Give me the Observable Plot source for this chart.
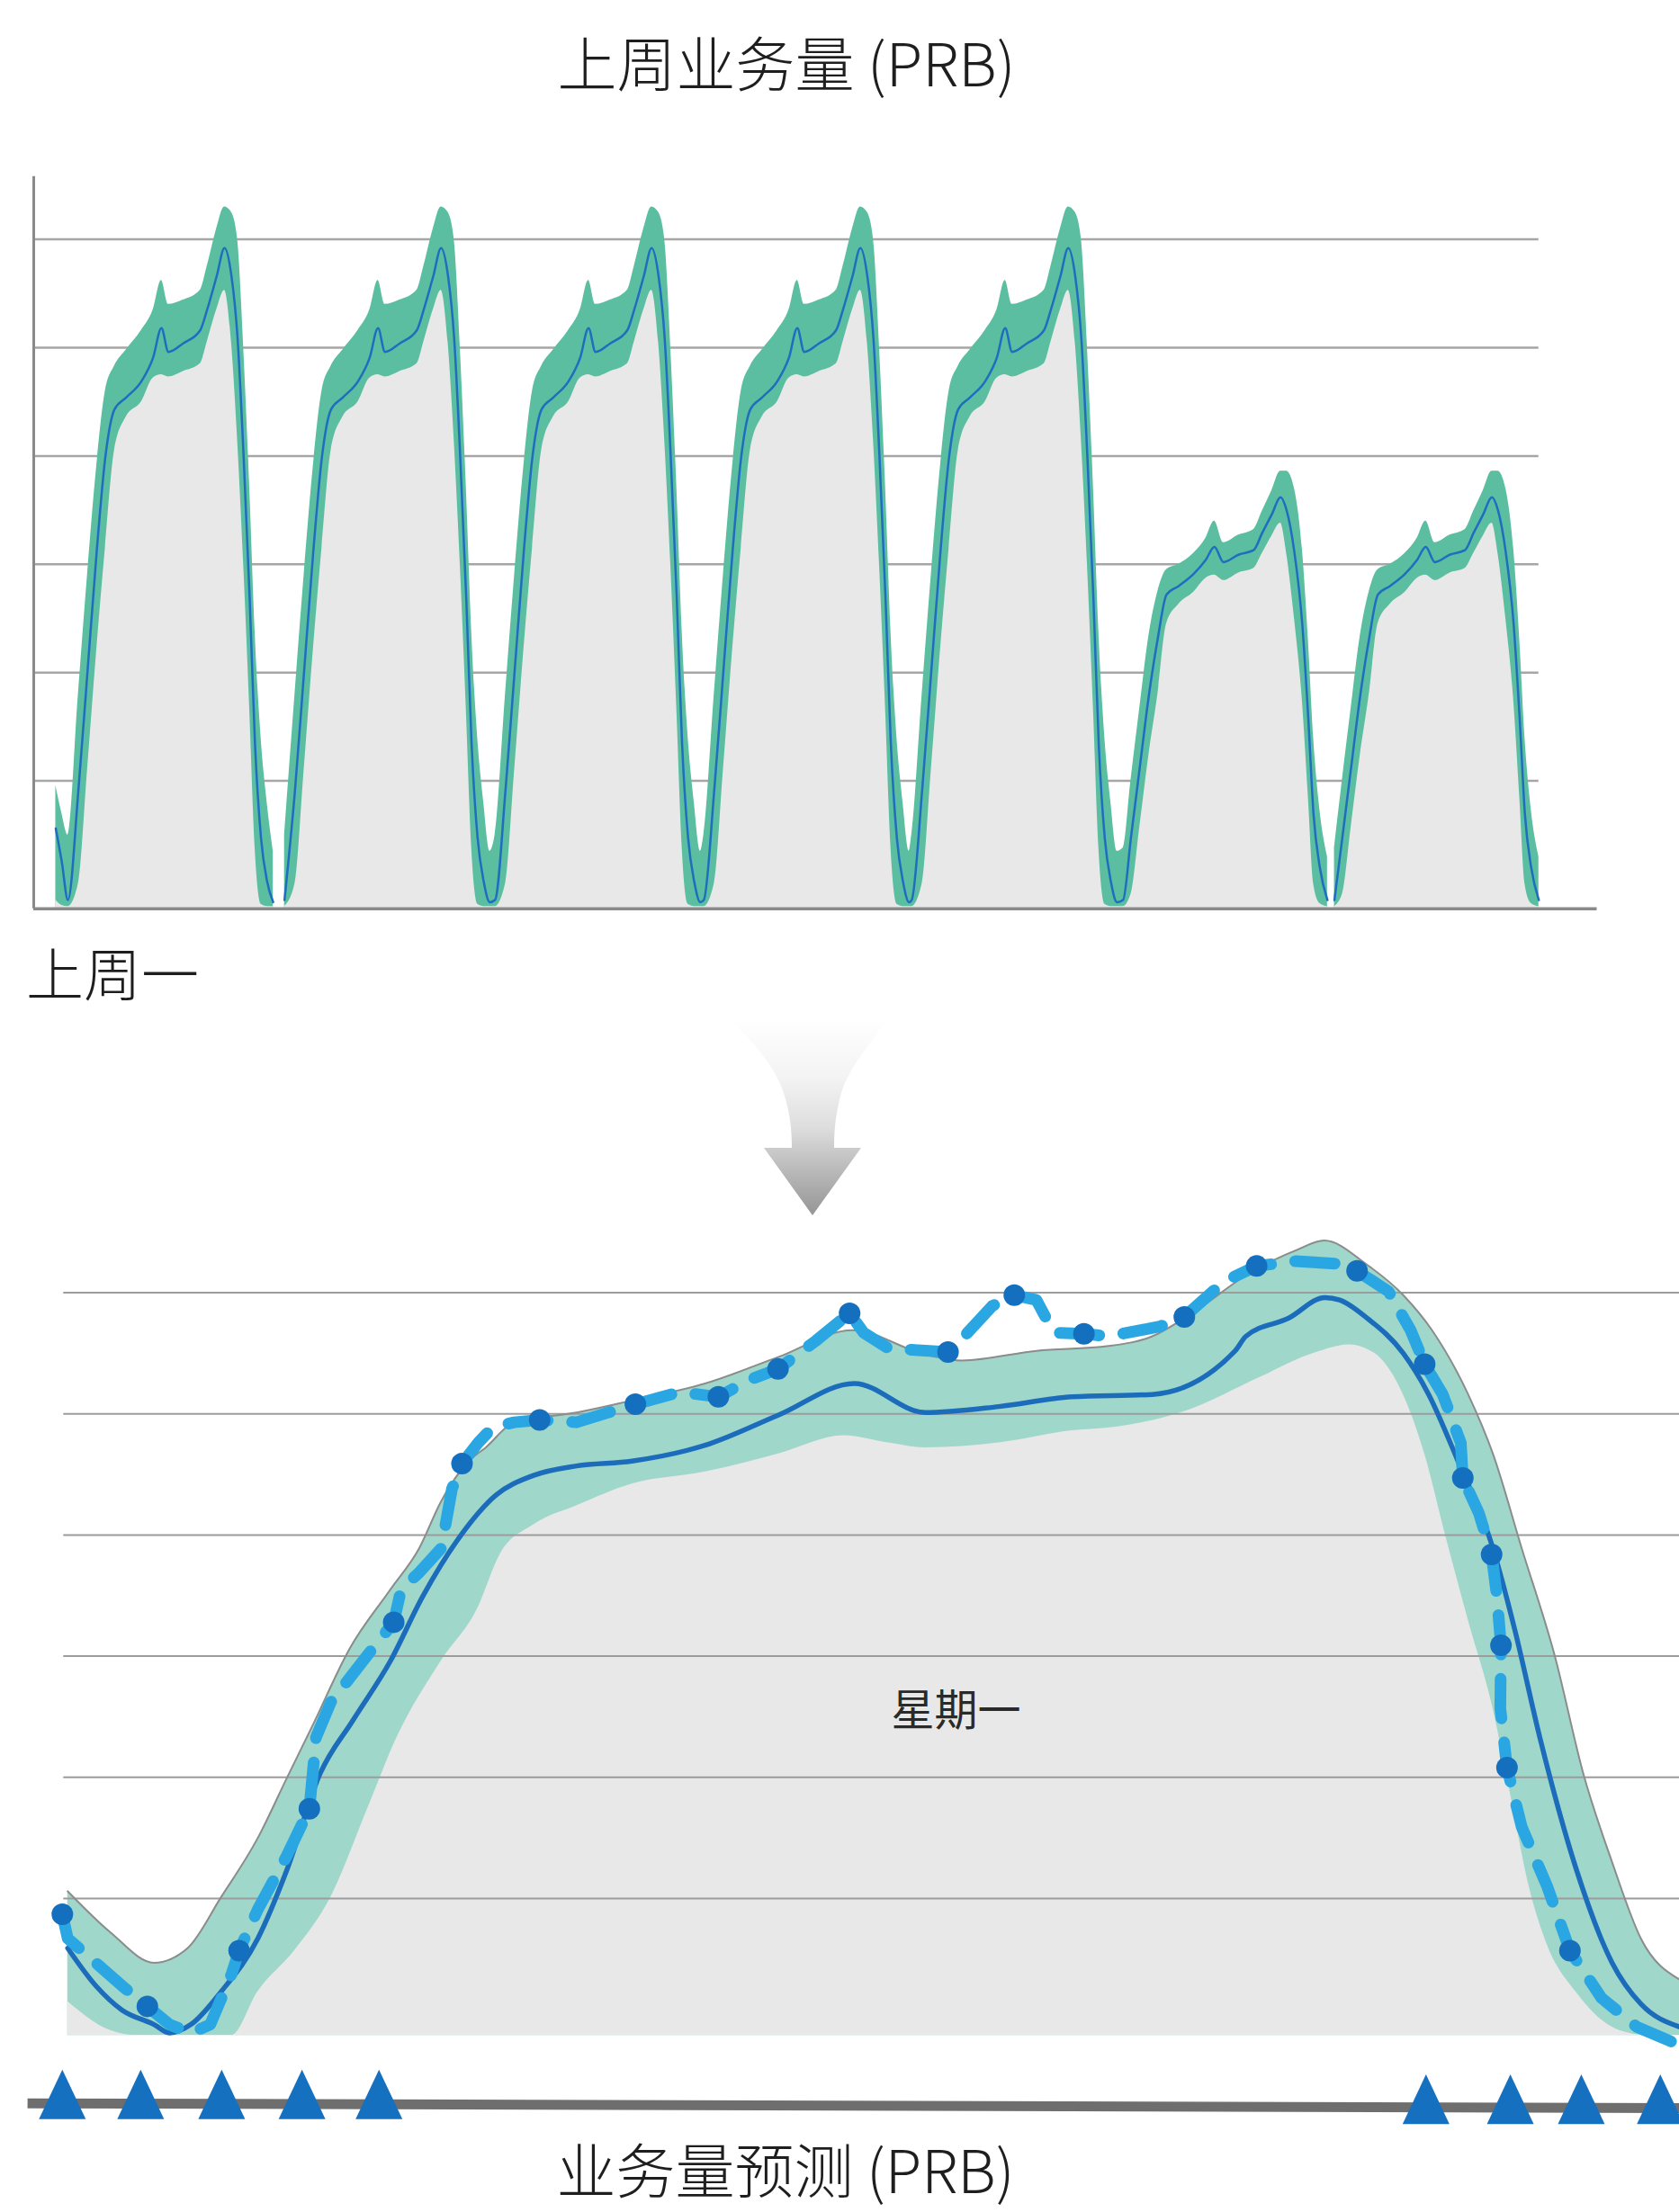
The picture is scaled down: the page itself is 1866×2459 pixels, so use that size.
<!DOCTYPE html>
<html>
<head>
<meta charset="utf-8">
<script src="https://cdn.jsdelivr.net/npm/d3@7"></script>
<script src="https://cdn.jsdelivr.net/npm/@observablehq/plot@0.6"></script>
<style>
  body { margin: 0; background: #fff; }
  #page { position: relative; width: 1866px; height: 2459px; overflow: hidden; background: #fff;
          font-family: "Noto Sans CJK SC", "Noto Sans", sans-serif; }
  .lbl { position: absolute; white-space: nowrap; color: #1e1e1e; font-weight: 300; line-height: 1; }
  .chart { position: absolute; left: 0; }
  .chart svg { display: block; }
</style>
</head>
<body>
<div id="page">
  <div class="lbl" style="top:34px;left:0;width:1748px;text-align:center;font-size:66px">上周业务量 (PRB)</div>
  <div class="chart" id="topChart" style="top:180px"></div>
  <div class="lbl" style="top:1047px;left:29px;font-size:64px">上周一</div>
  <svg id="arrow" style="position:absolute;left:780px;top:1110px" width="260" height="270" viewBox="780 1110 260 270">
    <defs>
      <linearGradient id="arrowFade" gradientUnits="userSpaceOnUse" x1="0" y1="1133" x2="0" y2="1351">
        <stop offset="0" stop-color="#ffffff"/>
        <stop offset="0.3" stop-color="#f3f3f3"/>
        <stop offset="0.55" stop-color="#dedede"/>
        <stop offset="0.68" stop-color="#c8c8c8"/>
        <stop offset="1" stop-color="#959595"/>
      </linearGradient>
    </defs>
    <path fill="url(#arrowFade)" d="M810,1133 C830,1150 862,1185 871,1215 C879,1240 880,1260 880,1276 L849,1276 L903,1351 L957,1276 L927,1276 C927,1260 928,1240 935,1215 C944,1185 975,1150 987,1133 Z"/>
  </svg>
  <div class="chart" id="bottomChart" style="top:1360px"></div>
  <div class="lbl" style="top:2376px;left:0;width:1746px;text-align:center;font-size:66px">业务量预测 (PRB)</div>
</div>
<script>
// ---------- Last week's PRB load: one hourly profile per day type ----------
// hours are counted from the overnight low of each day
const weekdayHour   = [0, 1.2, 2.25, 3.3, 4.3, 5.35, 6.7, 8.45, 9.8, 10.75, 11.55, 13.25, 15.2, 16.0, 17.1, 18.0, 18.8, 19.5, 20.2, 20.9, 21.5, 22.2, 22.9, 23.6];
const weekdayMedian = [-1.0, 9.1, 20.1, 31.1, 39.9, 44.3, 45.4, 46.9, 49.1, 51.8, 49.6, 50.4, 51.6, 53.5, 56.6, 59.2, 56.6, 50.9, 39.9, 26.7, 13.5, 4.7, 0.7, -1.2];
const weekdayLow    = [-1.6, 0.5, 11.0, 22.0, 31.5, 40.5, 43.6, 45.0, 47.2, 47.5, 47.3, 47.8, 48.5, 50.5, 53.5, 55.3, 50.5, 41.5, 30.0, 16.5, 4.0, -1.4, -1.6, -1.6];
const weekdayHigh   = [5.0, 18.0, 29.0, 39.0, 46.0, 48.3, 49.8, 51.6, 53.5, 56.2, 54.0, 54.4, 55.3, 57.5, 61.0, 63.0, 62.5, 60.0, 50.0, 37.0, 24.0, 14.0, 8.0, 3.5];

const weekendHour   = [0, 0.9, 1.93, 2.97, 4.0, 5.0, 6.4, 8.1, 9.5, 10.5, 11.55, 13.3, 15.0, 16.0, 17.1, 18.1, 18.8, 19.7, 20.6, 21.3, 21.9, 22.6, 23.5];
const weekendMedian = [-1.0, 4.7, 11.3, 17.9, 23.2, 27.2, 28.0, 29.1, 30.4, 31.6, 30.2, 30.9, 31.3, 32.9, 34.6, 36.2, 35.0, 31.1, 24.5, 15.7, 6.9, 2.1, -1.0];
const weekendLow    = [-1.6, -0.5, 5.8, 12.4, 18.0, 24.5, 26.3, 27.4, 28.7, 29.0, 28.5, 29.2, 29.6, 31.0, 32.6, 33.8, 31.0, 25.0, 17.5, 8.5, 0.5, -1.3, -1.6];
const weekendHigh   = [3.8, 10.0, 16.8, 23.4, 27.5, 29.5, 30.0, 31.0, 32.4, 34.0, 32.0, 32.7, 33.2, 34.9, 36.8, 38.6, 38.6, 37.0, 31.5, 23.0, 14.0, 7.5, 3.0];

// the late-evening tail just before the first day
const leadHour   = [-1.4, -0.7];
const leadMedian = [5.6, 2.5];
const leadLow    = [-1.0, -1.5];
const leadHigh   = [9.6, 7.0];

// start of each day on the week axis (hours), day type and drawing segment
const cycleStart   = [0, 24.9, 49.1, 73.1, 97.0, 121.3, 145.6];
const cycleKind    = ["weekday", "weekday", "weekday", "weekday", "weekday", "weekend", "weekend"];
const cycleSegment = [0, 1, 1, 1, 1, 1, 2];

const topGrid = [10, 20, 30, 40, 50, 60];

// ---------- Monday forecast ----------
const upperHour  = [0.01, 0.65, 1.30, 1.80, 2.30, 2.85, 3.28, 3.67, 4.22, 4.83, 5.26, 5.59, 6.02, 6.25, 6.68, 7.61, 8.44, 9.53, 10.63, 11.73, 12.82, 13.37, 14.48, 15.56, 16.21, 16.75, 17.72, 18.36, 18.78, 19.42, 19.96, 20.39, 20.93, 21.30, 21.73, 22.22, 22.65, 23.08, 23.51, 24.09];
const upperValue = [10.6, 7.2, 4.7, 5.9, 10.1, 15.0, 19.9, 24.3, 30.6, 35.5, 38.9, 42.8, 46.2, 47.2, 49.3, 50.1, 51.1, 52.5, 54.7, 56.9, 54.9, 54.4, 55.2, 55.6, 56.4, 58.1, 61.8, 63.5, 64.3, 62.3, 59.8, 56.9, 51.6, 46.7, 38.9, 30.1, 20.3, 13.0, 6.7, 3.3];

const lowerHour  = [0.01, 0.65, 1.02, 2.46, 2.85, 3.40, 3.94, 4.49, 4.93, 5.59, 6.14, 6.47, 6.96, 7.61, 8.44, 9.53, 10.63, 11.61, 12.27, 12.82, 13.92, 15.01, 15.67, 16.75, 17.82, 18.63, 19.15, 19.53, 19.96, 20.28, 20.60, 20.93, 21.30, 21.57, 21.84, 22.11, 22.54, 23.19, 23.6, 24.09];
const lowerValue = [1.5, -0.9, -1.3, -1.3, 2.3, 5.7, 10.1, 17.4, 23.3, 29.6, 34.0, 38.4, 40.8, 42.4, 44.2, 45.2, 46.7, 48.2, 47.6, 47.2, 47.6, 48.6, 48.9, 50.3, 53.0, 55.0, 55.7, 55.0, 51.6, 46.7, 39.8, 33.0, 25.7, 18.4, 11.0, 6.2, 2.3, -0.9, -1.3, -1.3];

const medianHour  = [0.01, 0.43, 0.82, 1.30, 1.53, 1.85, 2.30, 2.85, 3.28, 3.78, 4.27, 4.83, 5.31, 5.86, 6.41, 6.96, 7.61, 8.44, 9.53, 10.63, 11.76, 12.82, 13.92, 15.01, 16.21, 17.45, 17.61, 18.25, 18.79, 19.01, 19.42, 19.96, 20.34, 20.77, 21.30, 21.63, 22.00, 22.54, 23.08, 23.51, 24.09];
const medianValue = [5.9, 2.8, 0.8, -0.4, -1.1, -0.4, 2.3, 6.7, 12.3, 20.3, 24.7, 29.6, 34.9, 39.8, 43.3, 44.9, 45.7, 46.1, 47.4, 49.9, 52.5, 50.1, 50.6, 51.4, 51.6, 55.2, 56.4, 57.9, 59.6, 59.4, 57.9, 55.0, 51.6, 46.2, 38.9, 32.1, 23.3, 12.5, 4.7, 1.3, -0.6];

const predHour   = [-0.07, 0.01, 0.43, 0.82, 1.20, 1.53, 1.85, 2.14, 2.46, 2.57, 2.85, 3.28, 3.62, 3.72, 3.94, 4.49, 4.88, 4.99, 5.26, 5.59, 5.75, 5.90, 6.14, 6.36, 6.68, 7.06, 7.61, 8.49, 9.15, 9.73, 10.19, 10.62, 11.18, 11.69, 11.90, 12.27, 13.16, 13.37, 13.82, 14.15, 14.48, 14.74, 15.19, 15.56, 16.32, 16.69, 17.28, 17.77, 18.36, 18.94, 19.27, 19.74, 20.07, 20.28, 20.55, 20.82, 20.85, 21.09, 21.28, 21.36, 21.42, 21.41, 21.51, 21.73, 22.11, 22.45, 22.92, 23.45, 24.09];
const predValue  = [8.7, 6.7, 4.7, 2.8, 1.1, -0.4, -1.1, -0.4, 3.8, 5.7, 9.1, 13.5, 17.4, 23.3, 26.2, 30.1, 32.8, 35.5, 36.9, 38.9, 43.8, 45.9, 47.6, 48.9, 49.3, 49.5, 49.3, 50.8, 51.8, 51.4, 52.8, 53.7, 56.0, 58.3, 56.7, 55.4, 55.1, 56.2, 58.9, 59.8, 59.4, 56.7, 56.6, 56.4, 57.2, 58.0, 60.9, 62.2, 62.6, 62.4, 61.8, 60.1, 56.9, 54.1, 51.6, 47.6, 44.7, 41.8, 38.4, 34.9, 30.9, 25.7, 20.8, 15.9, 11.0, 5.7, 1.8, -0.6, -2.1];
const predMarked = [1, 0, 0, 0, 1, 0, 0, 0, 0, 1, 0, 0, 1, 0, 0, 0, 1, 0, 0, 0, 0, 1, 0, 0, 0, 1, 0, 1, 0, 1, 0, 1, 0, 1, 0, 0, 1, 0, 0, 1, 0, 0, 1, 0, 0, 1, 0, 1, 0, 0, 1, 0, 0, 1, 0, 0, 1, 0, 1, 0, 1, 0, 1, 0, 0, 1, 0, 0, 0];

// hours flagged along the time axis
const flagHour = [-0.07, 1.1, 2.31, 3.51, 4.66, 20.3, 21.56, 22.62, 23.8];

const bottomGrid = [10, 20, 30, 40, 50, 60];
const dayLabel = "星期一";

// ---------- assemble tables ----------
const week = [];
leadHour.forEach((h, i) => week.push({t: h, med: leadMedian[i], lo: leadLow[i], hi: leadHigh[i], seg: 0}));
cycleStart.forEach((start, d) => {
  const wd = cycleKind[d] === "weekday";
  const hrs = wd ? weekdayHour : weekendHour;
  const med = wd ? weekdayMedian : weekendMedian;
  const lo = wd ? weekdayLow : weekendLow;
  const hi = wd ? weekdayHigh : weekendHigh;
  hrs.forEach((h, i) => week.push({t: start + h, med: med[i], lo: lo[i], hi: hi[i], seg: cycleSegment[d]}));
});

const zip = (hs, vs) => hs.map((h, i) => ({h, v: vs[i]}));
const upper = zip(upperHour, upperValue);
const lower = zip(lowerHour, lowerValue);
const median = zip(medianHour, medianValue);
const pred = predHour.map((h, i) => ({h, v: predValue[i], marked: predMarked[i] === 1}));
const flags = flagHour.map(h => ({h, level: h < 12 ? -6.2 : -6.6}));

// upright triangle a little taller than it is wide
const tallTriangle = {
  draw(context, size) {
    const r = Math.sqrt(size / Math.PI);
    context.moveTo(0, -1.08 * r);
    context.lineTo(r, 1.04 * r);
    context.lineTo(-r, 1.04 * r);
    context.closePath();
  }
};

// ---------- weekly chart ----------
const topPlot = Plot.plot({
  width: 1866,
  height: 860,
  margin: 0,
  style: {background: "transparent", overflow: "visible"},
  x: {domain: [0, 168], range: [75, 1699.1], axis: null},
  y: {domain: [0, 60], range: [808, 85.6], axis: null},
  marks: [
    Plot.ruleY(topGrid, {x1: -3.93, x2: 169.1, stroke: "#a6a6a6", strokeWidth: 2.5}),
    Plot.areaY(week, {x: "t", y1: -1.8, y2: "hi", z: "seg", fill: "#5bbea0", curve: "monotone-x"}),
    Plot.areaY(week, {x: "t", y1: -1.8, y2: "lo", z: "seg", fill: "#e8e8e8", curve: "monotone-x"}),
    Plot.line(week, {x: "t", y: "med", z: "seg", stroke: "#1f6dbf", strokeWidth: 2.5, curve: "monotone-x"}),
    Plot.ruleX([-3.93], {y1: -1.8, y2: 65.8, stroke: "#8a8a8a", strokeWidth: 3}),
    Plot.ruleY([-1.8], {x1: -3.93, x2: 175.8, stroke: "#8a8a8a", strokeWidth: 3.5})
  ]
});
document.getElementById("topChart").appendChild(topPlot);

// ---------- Monday forecast chart ----------
const bottomPlot = Plot.plot({
  width: 1866,
  height: 1030,
  margin: 0,
  style: {background: "transparent", overflow: "visible"},
  x: {domain: [0, 24], range: [74, 1859.6], axis: null},
  y: {domain: [0, 60], range: [884.7, 76.5], axis: null},
  marks: [
    Plot.areaY(upper, {x: "h", y1: -1.3, y2: "v", fill: "#a0d7cb", curve: "monotone-x"}),
    Plot.areaY(lower, {x: "h", y1: -1.3, y2: "v", fill: "#e8e8e8", curve: "monotone-x"}),
    Plot.ruleY(bottomGrid, {x1: -0.05, x2: 25, stroke: "#9c9c9c", strokeWidth: 2}),
    Plot.line(upper, {x: "h", y: "v", stroke: "#8c8c8c", strokeWidth: 2, curve: "monotone-x"}),
    Plot.text([dayLabel], {x: 13.28, y: 25.4, text: d => d, fontSize: 48, fill: "#2a2a2a",
      fontFamily: "Noto Sans CJK SC, Noto Sans, sans-serif"}),
    Plot.line(median, {x: "h", y: "v", stroke: "#1c6cbc", strokeWidth: 5.5, curve: "monotone-x"}),
    Plot.line(pred, {x: "h", y: "v", stroke: "#2aa7e2", strokeWidth: 13, strokeDasharray: "44 27",
      strokeLinecap: "round", strokeLinejoin: "round"}),
    Plot.dot(pred.filter(d => d.marked), {x: "h", y: "v", r: 12, fill: "#1470be"}),
    Plot.link([0], {x1: -0.59, x2: 24.5, y1: -6.9, y2: -7.3, stroke: "#6e6e6e", strokeWidth: 11}),
    Plot.dot(flags, {x: "h", y: "level", symbol: tallTriangle, r: 26, fill: "#1670c0"})
  ]
});
document.getElementById("bottomChart").appendChild(bottomPlot);
</script>
</body>
</html>
